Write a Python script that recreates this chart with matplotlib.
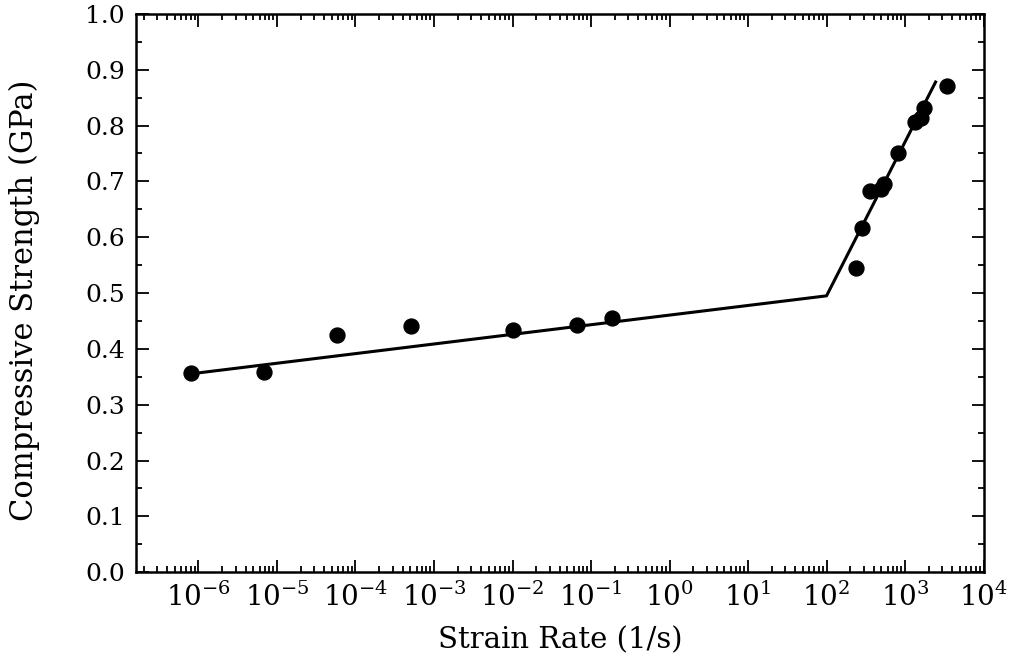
import matplotlib
matplotlib.use('Agg')
import matplotlib.pyplot as plt
import numpy as np
from matplotlib.ticker import LogLocator, MultipleLocator, FixedLocator

plt.rcParams['font.family'] = ['DejaVu Serif']
plt.rcParams['mathtext.fontset'] = 'dejavuserif'

# measured points: strain rate (1/s) and compressive strength (GPa)
rate = [8.1e-7, 6.9e-6, 5.8e-5, 5.1e-4, 1.02e-2, 6.6e-2, 1.86e-1,
        240, 282, 363, 500, 537, 813, 1350, 1620, 1740, 3390]
strength = [0.357, 0.358, 0.425, 0.441, 0.434, 0.443, 0.455,
            0.545, 0.616, 0.683, 0.686, 0.695, 0.751, 0.806, 0.814, 0.832, 0.871]

# bilinear fit
fit_rate = [1e-6, 1e2, 2450]
fit_strength = [0.357, 0.495, 0.878]

xticks = [1e-6, 1e-5, 1e-4, 1e-3, 1e-2, 1e-1, 1e0, 1e1, 1e2, 1e3, 1e4]
xtick_labels = [r'$10^{-6}$', r'$10^{-5}$', r'$10^{-4}$', r'$10^{-3}$', r'$10^{-2}$',
                r'$10^{-1}$', r'$10^{0}$', r'$10^{1}$', r'$10^{2}$', r'$10^{3}$', r'$10^{4}$']

fig = plt.figure(figsize=(10.15, 6.63), dpi=100)
ax = fig.add_axes([0.134, 0.137, 0.835, 0.842])

ax.plot(fit_rate, fit_strength, color='black', lw=2.2)
ax.scatter(rate, strength, s=115, color='black', zorder=3)

ax.set_xscale('log')
ax.set_xlim(1.6e-7, 1e4)
ax.set_ylim(0, 1.0)

ax.xaxis.set_major_locator(FixedLocator(xticks))
ax.set_xticklabels(xtick_labels)
ax.xaxis.set_minor_locator(LogLocator(base=10, subs=np.arange(2, 10), numticks=30))
ax.yaxis.set_major_locator(MultipleLocator(0.1))
ax.yaxis.set_minor_locator(MultipleLocator(0.05))
ax.yaxis.set_major_formatter(matplotlib.ticker.FormatStrFormatter('%.1f'))

ax.tick_params(which='both', direction='in', top=True, right=True, width=1.3)
ax.tick_params(which='major', length=9, pad=8)
ax.tick_params(axis='y', which='major', labelsize=18)
ax.tick_params(axis='x', which='major', labelsize=20)
ax.tick_params(which='minor', length=4.5)
ax.tick_params(axis='x', which='minor', labelbottom=False)

for s in ax.spines.values():
    s.set_linewidth(1.8)

ax.set_xlabel('Strain Rate (1/s)', fontsize=21, labelpad=10)
ax.set_ylabel('Compressive Strength (GPa)', fontsize=22)
ax.yaxis.set_label_coords(-0.113, 0.487)

fig.savefig('out.png', dpi=100)
